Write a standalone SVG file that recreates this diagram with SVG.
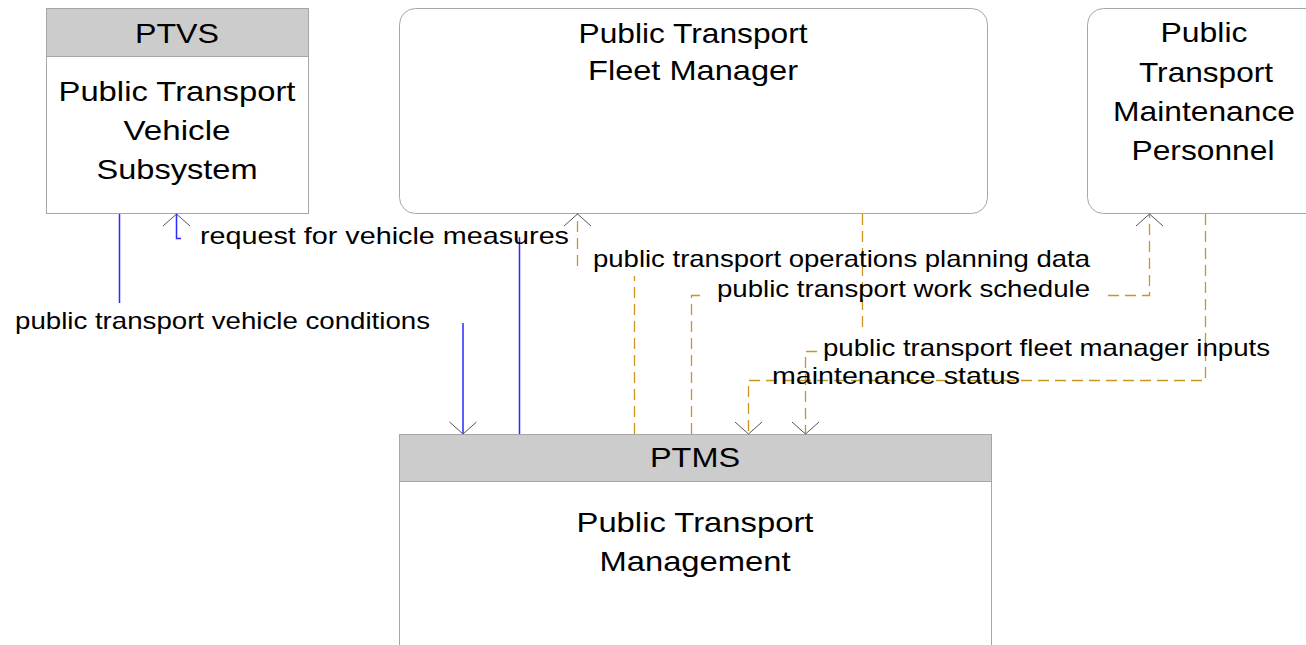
<svg xmlns="http://www.w3.org/2000/svg" width="1306" height="645" viewBox="0 0 1306 645">
<style>
.box{fill:#ffffff;stroke:#a6a6a6;stroke-width:1}
.hdr{fill:#cccccc;stroke:#a6a6a6;stroke-width:1}
.nt{font-family:"Liberation Sans",Arial,sans-serif;font-size:28px;fill:#000;text-anchor:middle}
.lb{font-family:"Liberation Sans",Arial,sans-serif;font-size:24px;fill:#000}
.blue{fill:none;stroke:#2a2aff;stroke-width:1.5}
.orng{fill:none;stroke:#cc9422;stroke-width:1.3;stroke-dasharray:11 6}
</style>
<defs>
<marker id="arr" markerUnits="userSpaceOnUse" viewBox="-20 -20 40 40" refX="0" refY="0" markerWidth="40" markerHeight="40" orient="auto" overflow="visible">
<path d="M-12,-13.5 L0,0 L-12,13.5" fill="none" stroke="#555555" stroke-width="1" stroke-dasharray="none"/>
</marker>
</defs>
<rect width="1306" height="645" fill="#ffffff"/>
<g id="node-ptvs">
<rect class="box" x="46.5" y="8.5" width="262" height="205"/>
<rect class="hdr" x="46.5" y="8.5" width="262" height="48"/>
<text class="nt" x="177" y="43" textLength="84" lengthAdjust="spacingAndGlyphs">PTVS</text>
<text class="nt" x="177" y="101" textLength="237" lengthAdjust="spacingAndGlyphs">Public Transport</text>
<text class="nt" x="177" y="140" textLength="107" lengthAdjust="spacingAndGlyphs">Vehicle</text>
<text class="nt" x="177" y="179" textLength="161" lengthAdjust="spacingAndGlyphs">Subsystem</text>
</g>
<g id="node-fleet-manager">
<rect class="box" x="399.5" y="8.5" width="588" height="205" rx="16" ry="16"/>
<text class="nt" x="693" y="43" textLength="229" lengthAdjust="spacingAndGlyphs">Public Transport</text>
<text class="nt" x="693" y="80" textLength="210" lengthAdjust="spacingAndGlyphs">Fleet Manager</text>
</g>
<g id="node-maintenance-personnel">
<rect class="box" x="1087.5" y="8.5" width="240" height="205" rx="16" ry="16"/>
<text class="nt" x="1204" y="42" textLength="87" lengthAdjust="spacingAndGlyphs">Public</text>
<text class="nt" x="1206" y="82" textLength="134" lengthAdjust="spacingAndGlyphs">Transport</text>
<text class="nt" x="1204" y="121" textLength="182" lengthAdjust="spacingAndGlyphs">Maintenance</text>
<text class="nt" x="1203" y="160" textLength="143" lengthAdjust="spacingAndGlyphs">Personnel</text>
</g>
<g id="node-ptms">
<rect class="box" x="399.5" y="434.5" width="592" height="230"/>
<rect class="hdr" x="399.5" y="434.5" width="592" height="47"/>
<text class="nt" x="695" y="467" textLength="90" lengthAdjust="spacingAndGlyphs">PTMS</text>
<text class="nt" x="695" y="532" textLength="237" lengthAdjust="spacingAndGlyphs">Public Transport</text>
<text class="nt" x="695" y="571" textLength="191" lengthAdjust="spacingAndGlyphs">Management</text>
</g>
<g id="connectors">
<path class="blue" d="M119.5,214 V303 M463,323 V434" marker-end="url(#arr)"/>
<path class="blue" d="M519.5,434 V237 M181,238.5 H176.5 V214" marker-end="url(#arr)"/>
<path class="orng" d="M634.5,434 V276 M577.5,266 V214" marker-end="url(#arr)"/>
<path class="orng" d="M691.5,434 V295.5 H700 M1108,295.5 H1149.5 V214" marker-end="url(#arr)"/>
<path class="orng" d="M862.5,214 V333 M817,351.5 H805.5 V434" marker-end="url(#arr)"/>
<path class="orng" d="M1205.5,214 V380.5 H748.5 V434" marker-end="url(#arr)"/>
</g>
<g id="labels">
<text class="lb" x="15" y="329" textLength="415" lengthAdjust="spacingAndGlyphs">public transport vehicle conditions</text>
<text class="lb" x="200" y="244" textLength="369" lengthAdjust="spacingAndGlyphs">request for vehicle measures</text>
<text class="lb" x="593" y="267" textLength="497" lengthAdjust="spacingAndGlyphs">public transport operations planning data</text>
<text class="lb" x="717" y="297" textLength="373" lengthAdjust="spacingAndGlyphs">public transport work schedule</text>
<text class="lb" x="823" y="356" textLength="447" lengthAdjust="spacingAndGlyphs">public transport fleet manager inputs</text>
<text class="lb" x="772" y="384" textLength="248" lengthAdjust="spacingAndGlyphs">maintenance status</text>
</g>
</svg>
